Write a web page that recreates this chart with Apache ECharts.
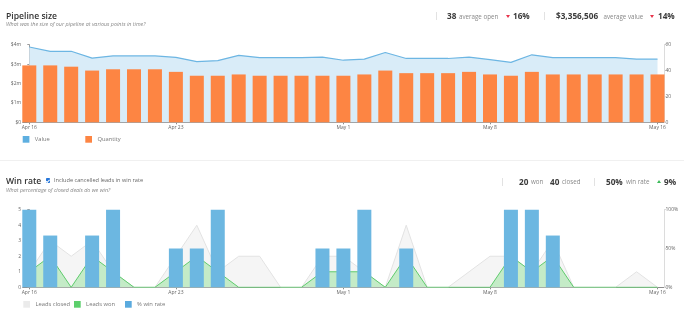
<!DOCTYPE html>
<html>
<head>
<meta charset="utf-8">
<script src="https://cdn.jsdelivr.net/npm/echarts@6/dist/echarts.min.js"></script>
<style>
  html, body { margin: 0; padding: 0; background: #fff; width: 684px; height: 324px; overflow: hidden; }
  body { font-family: 'Open Sans', 'Noto Sans', sans-serif; position: relative; }
  #chart { position: absolute; left: 0; top: 0; width: 684px; height: 324px; }
  .t { position: absolute; white-space: nowrap; line-height: 1; transform: translateY(-50%); }
  .title { font-size: 8.6px; font-weight: 600; color: #333; }
  .sub { font-size: 5.4px; font-style: italic; color: #888; }
  .num { font-size: 8.2px; font-weight: 700; color: #3a3a3a; }
  .lbl { font-size: 6.2px; color: #888; }
  .div { position: absolute; width: 1px; height: 8px; background: #e2e2e2; }
  .tri-down { position: absolute; width: 0; height: 0; border-left: 2.3px solid transparent; border-right: 2.3px solid transparent; border-top: 3px solid #e8344c; }
  .tri-up { position: absolute; width: 0; height: 0; border-left: 2.3px solid transparent; border-right: 2.3px solid transparent; border-bottom: 3px solid #3dbb5a; }
  .chk { position: absolute; width: 4.6px; height: 4.6px; background: #2676d9; border-radius: 0.8px; }
  .chk::after { content: ''; position: absolute; left: 1.5px; top: 0.4px; width: 1.2px; height: 2.5px; border: solid #fff; border-width: 0 0.7px 0.7px 0; transform: rotate(45deg); }
  .sep { position: absolute; left: 0; width: 684px; height: 1px; background: #f0f0f0; }
</style>
</head>
<body>
<div id="chart"></div>

<!-- Pipeline size header -->
<div class="t title" style="left:6px;top:15.7px">Pipeline size</div>
<div class="t sub" style="left:6px;top:25.2px">What was the size of our pipeline at various points in time?</div>
<div class="div" style="left:435.5px;top:12px"></div>
<div class="t num" style="left:447px;top:16px">38</div>
<div class="t lbl" style="left:459px;top:16.5px">average open</div>
<div class="tri-down" style="left:505.5px;top:15px"></div>
<div class="t num" style="left:513px;top:16px">16%</div>
<div class="div" style="left:543.5px;top:12px"></div>
<div class="t num" style="left:556px;top:16px">$3,356,506</div>
<div class="t lbl" style="left:603.5px;top:16.5px">average value</div>
<div class="tri-down" style="left:649.5px;top:15px"></div>
<div class="t num" style="left:658px;top:16px">14%</div>

<div class="sep" style="top:160px"></div>

<!-- Win rate header -->
<div class="t title" style="left:6px;top:181px">Win rate</div>
<div class="chk" style="left:45.7px;top:178.4px"></div>
<div class="t lbl" style="left:54px;top:181.2px;color:#666;font-size:5.6px">Include cancelled leads in win rate</div>
<div class="t sub" style="left:6px;top:191.2px">What percentage of closed deals do we win?</div>
<div class="div" style="left:502px;top:177.5px"></div>
<div class="t num" style="left:519px;top:181.5px">20</div>
<div class="t lbl" style="left:531px;top:182px">won</div>
<div class="t num" style="left:550px;top:181.5px">40</div>
<div class="t lbl" style="left:562px;top:182px">closed</div>
<div class="div" style="left:593.5px;top:177.5px"></div>
<div class="t num" style="left:606px;top:181.5px">50%</div>
<div class="t lbl" style="left:626px;top:182px">win rate</div>
<div class="tri-up" style="left:656.5px;top:180px"></div>
<div class="t num" style="left:664px;top:181.5px">9%</div>

<script>
// Daily categories, Apr 16 – May 16
const days = [
  'Apr 16','Apr 17','Apr 18','Apr 19','Apr 20','Apr 21','Apr 22','Apr 23','Apr 24','Apr 25',
  'Apr 26','Apr 27','Apr 28','Apr 29','Apr 30','May 1','May 2','May 3','May 4','May 5',
  'May 6','May 7','May 8','May 9','May 10','May 11','May 12','May 13','May 14','May 15','May 16'
];
const tickLabels = ['Apr 16', 'Apr 23', 'May 1', 'May 8', 'May 16'];

// Pipeline size
const pipelineValue = [
  3880000, 3660000, 3660000, 3310000, 3420000, 3420000, 3420000, 3350000, 3130000, 3180000,
  3450000, 3330000, 3330000, 3330000, 3360000, 3200000, 3260000, 3600000, 3290000, 3290000,
  3290000, 3360000, 3230000, 3090000, 3480000, 3330000, 3330000, 3330000, 3330000, 3260000, 3260000
];
const openQuantity = [
  44, 44, 43, 40, 41, 41, 41, 39, 36, 36,
  37, 36, 36, 36, 36, 36, 37, 40, 38, 38,
  38, 39, 37, 36, 39, 37, 37, 37, 37, 37, 37
];

// Win rate
const leadsClosed = [1, 3, 2, 3, 1, 0, 0, 2, 4, 1, 2, 2, 0, 0, 2, 2, 1, 0, 4, 0, 0, 1, 2, 2, 1, 3, 0, 0, 0, 1, 0];
const leadsWon    = [1, 2, 0, 2, 1, 0, 0, 1, 2, 1, 0, 0, 0, 0, 1, 1, 1, 0, 2, 0, 0, 0, 0, 2, 1, 2, 0, 0, 0, 0, 0];
const winRate     = [100, 66.7, 0, 66.7, 100, 0, 0, 50, 50, 100, 0, 0, 0, 0, 50, 50, 100, 0, 50, 0, 0, 0, 0, 100, 100, 66.7, 0, 0, 0, 0, 0];

const FONT = "'Open Sans', 'Noto Sans', sans-serif";
const tickIdx = tickLabels.map(l => days.indexOf(l));
const pts = arr => arr.map((v, i) => [i, v]);

function xAxis(gi) {
  return {
    type: 'value', gridIndex: gi, min: -0.315, max: 30.31,
    splitLine: { show: false },
    axisLine: { show: true, onZero: false, lineStyle: { color: '#8c8c8c', width: 1 } },
    axisTick: { show: true, customValues: tickIdx, length: 2, lineStyle: { color: '#8c8c8c' } },
    axisLabel: { customValues: tickIdx, formatter: v => days[Math.round(v)], fontSize: 5, color: '#666', margin: 2.5, fontFamily: FONT }
  };
}
function yAxis(gi, pos, max, interval, fmt, lineColor) {
  return {
    type: 'value', gridIndex: gi, position: pos, min: 0, max: max, interval: interval,
    splitLine: { show: false },
    axisLine: { show: true, lineStyle: { color: lineColor, width: 1 } },
    axisTick: { show: true, length: 2, lineStyle: { color: lineColor } },
    axisLabel: { formatter: fmt, fontSize: 5, color: '#666', margin: 1.5, fontFamily: FONT }
  };
}
function legend(name, color, left, top) {
  return {
    data: [{ name: name, itemStyle: { color: color } }],
    left: left, top: top, padding: 0, itemGap: 0,
    icon: 'rect', itemWidth: 6.7, itemHeight: 6.7, selectedMode: false,
    lineStyle: { width: 0 },
    textStyle: { fontSize: 5.8, color: '#777', fontFamily: FONT, padding: [0, 0, 0, 0.4] }
  };
}

const chart = echarts.init(document.getElementById('chart'), null, { renderer: 'canvas' });
chart.setOption({
  animation: false,
  grid: [
    { left: 22.7, right: 20, top: 44.7, height: 77.6 },
    { left: 22.7, right: 20, top: 209.7, height: 77.6 }
  ],
  xAxis: [xAxis(0), xAxis(1)],
  yAxis: [
    yAxis(0, 'left', 4000000, 1000000, v => v === 0 ? '$0' : '$' + (v / 1000000) + 'm', '#9c9c9c'),
    yAxis(0, 'right', 60, 20, v => String(v), '#dcdcdc'),
    yAxis(1, 'left', 5, 1, v => String(v), '#9c9c9c'),
    yAxis(1, 'right', 100, 50, v => v + '%', '#dcdcdc')
  ],
  legend: [
    legend('Value', '#5eafe0', 22.7, 136),
    legend('Quantity', '#fd8543', 85.3, 136),
    legend('Leads closed', '#ebebeb', 23.3, 301),
    legend('Leads won', '#5ccf6c', 74, 301),
    legend('% win rate', '#5aaade', 125, 301)
  ],
  series: [
    {
      name: 'Value', type: 'line', xAxisIndex: 0, yAxisIndex: 0, data: pts(pipelineValue),
      symbol: 'none', z: 1,
      lineStyle: { color: '#6db6e3', width: 1.2 },
      itemStyle: { color: '#5eafe0' },
      areaStyle: { color: '#d9ecf8', opacity: 1 }
    },
    {
      name: 'Quantity', type: 'bar', xAxisIndex: 0, yAxisIndex: 1, data: pts(openQuantity),
      barWidth: 14, z: 2,
      itemStyle: { color: '#fd8543' }
    },
    {
      name: 'Leads closed', type: 'line', xAxisIndex: 1, yAxisIndex: 2, data: pts(leadsClosed),
      symbol: 'none', z: 1,
      lineStyle: { color: '#e3e3e3', width: 1 },
      itemStyle: { color: '#ebebeb' },
      areaStyle: { color: '#f5f5f5', opacity: 1 }
    },
    {
      name: 'Leads won', type: 'line', xAxisIndex: 1, yAxisIndex: 2, data: pts(leadsWon),
      symbol: 'none', z: 2,
      lineStyle: { color: '#5fcb6d', width: 1 },
      itemStyle: { color: '#5ccf6c' },
      areaStyle: { color: '#c4ebc7', opacity: 1 }
    },
    {
      name: '% win rate', type: 'bar', xAxisIndex: 1, yAxisIndex: 3, data: pts(winRate),
      barWidth: 14, z: 3,
      itemStyle: { color: '#6cb7e1' }
    }
  ]
});
</script>
</body>
</html>
